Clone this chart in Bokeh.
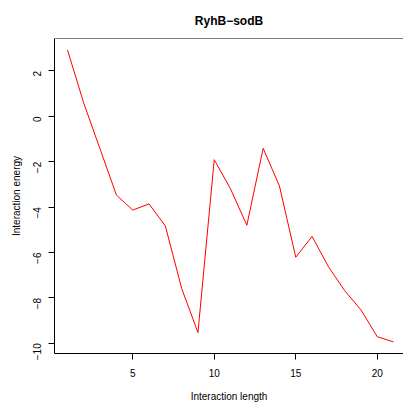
import math
from bokeh.plotting import figure
from bokeh.models import FixedTicker, Span, Range1d
from bokeh.embed import file_html
from bokeh.resources import INLINE

# Data
lengths = list(range(1, 22))
energies = [2.92, 0.57, -1.45, -3.47, -4.13, -3.86, -4.83, -7.58, -9.53, -1.91,
            -3.20, -4.80, -1.41, -3.07, -6.21, -5.29, -6.62, -7.68, -8.53, -9.71, -9.94]
x_ticks = [5, 10, 15, 20]
y_ticks = [-10, -8, -6, -4, -2, 0, 2]
title_text = "RyhB\u2212sodB"
x_label = "Interaction length"
y_label = "Interaction energy"

FONT = "Liberation Sans"

y_start, y_end = -10.45, 3.43
x_start, x_end = 0.2, 21.61
p = figure(frame_width=349, frame_height=315,
           x_range=Range1d(x_start, x_end), y_range=Range1d(y_start, y_end),
           output_backend="svg", toolbar_location=None,
           min_border_left=54, min_border_right=0, min_border_top=38, min_border_bottom=49)
p.background_fill_color = "white"
p.border_fill_color = "white"
p.outline_line_color = None
p.xgrid.visible = False
p.ygrid.visible = False

p.line(lengths, energies, line_color="#FF0000", line_width=1)

p.title.text = title_text
p.title.text_font = FONT
p.title.text_font_size = "12px"
p.title.text_font_style = "bold"
p.title.align = "center"
p.title.text_line_height = 0.8
p.title.standoff = 22
p.title.text_color = "black"

for ax in (p.xaxis[0], p.yaxis[0]):
    ax.axis_line_color = "black"
    ax.axis_line_width = 1
    ax.major_tick_line_color = "black"
    ax.major_tick_out = 6
    ax.major_tick_in = 0
    ax.minor_tick_line_color = None
    ax.major_label_text_font = FONT
    ax.major_label_text_font_size = "10px"
    ax.major_label_text_color = "black"
    ax.axis_label_text_font = FONT
    ax.axis_label_text_font_size = "10px"
    ax.axis_label_text_font_style = "normal"
    ax.axis_label_text_color = "black"

p.xaxis[0].ticker = FixedTicker(ticks=x_ticks)
p.yaxis[0].ticker = FixedTicker(ticks=y_ticks)
p.yaxis[0].major_label_overrides = {t: (str(t).replace("-", "\u2212")) for t in y_ticks}
p.yaxis[0].major_label_orientation = math.pi / 2
p.xaxis[0].axis_label = x_label
p.yaxis[0].axis_label = y_label
p.xaxis[0].major_label_standoff = 9
p.xaxis[0].axis_label_standoff = 11
p.yaxis[0].major_label_standoff = 11
p.yaxis[0].axis_label_standoff = 5

top_line = Span(location=y_end, dimension="width", line_color="black", line_width=1)
p.add_layout(top_line)

open("out.html", "w").write(file_html(p, INLINE))
